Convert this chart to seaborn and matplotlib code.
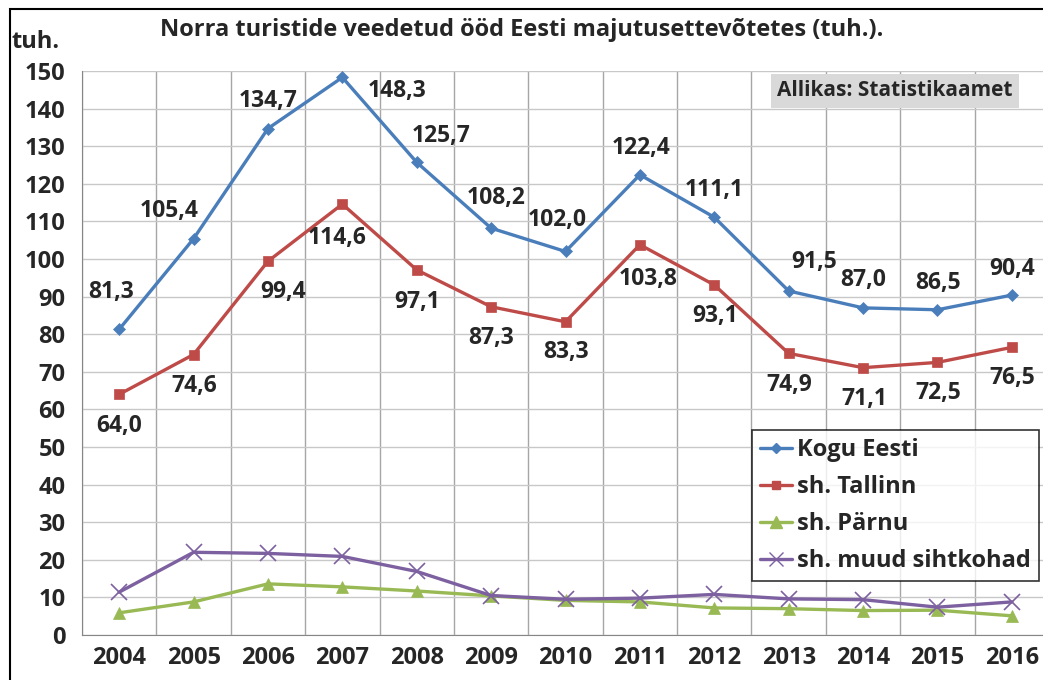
import matplotlib
matplotlib.use("Agg")
import matplotlib.pyplot as plt
from matplotlib.patches import Rectangle
from matplotlib.lines import Line2D
import pandas as pd
import seaborn as sns

# data
years = ['2004', '2005', '2006', '2007', '2008', '2009', '2010',
         '2011', '2012', '2013', '2014', '2015', '2016']
kogu = [81.3, 105.4, 134.7, 148.3, 125.7, 108.2, 102.0, 122.4, 111.1, 91.5, 87.0, 86.5, 90.4]
tallinn = [64.0, 74.6, 99.4, 114.6, 97.1, 87.3, 83.3, 103.8, 93.1, 74.9, 71.1, 72.5, 76.5]
parnu = [5.9, 8.8, 13.6, 12.8, 11.7, 10.4, 9.2, 8.8, 7.2, 7.0, 6.5, 6.6, 5.1]
muud = [11.4, 22.0, 21.7, 20.9, 16.9, 10.5, 9.5, 9.8, 10.8, 9.6, 9.4, 7.4, 8.8]
names = ['Kogu Eesti', 'sh. Tallinn', 'sh. Pärnu', 'sh. muud sihtkohad']

colors = ['#4a7ebb', '#be4b48', '#98b954', '#7d60a0']
markers = ['D', 's', '^', 'x']
msizes = [6, 7, 9, 11]

# label offsets in pixels (x, y up)
kogu_off = [(-8, 37), (-24, 28), (0, 28), (55, -14), (24, 26), (5, 30), (-8, 31),
            (1, 27), (0, 27), (25, 29), (0, 28), (1, 27), (0, 26)]
tall_off = [(0, -32), (1, -31), (15, -31), (-5, -34), (0, -32), (0, -31), (1, -30),
            (8, -34), (1, -31), (1, -32), (1, -31), (1, -31), (0, -31)]

sns.set_style("white")
plt.rcParams['font.family'] = ['Open Sans', 'DejaVu Sans']
plt.rcParams['font.weight'] = 'bold'

df = pd.DataFrame({'x': list(range(len(years))) * 4,
                   'value': kogu + tallinn + parnu + muud,
                   'series': [n for n in names for _ in years]})

fig = plt.figure(figsize=(10.43, 6.8), dpi=100)
ax = fig.add_axes([82 / 1043, 45 / 680, 967 / 1043, 564 / 680])

for i, n in enumerate(names):
    sub = df[df['series'] == n]
    sns.lineplot(data=sub, x='x', y='value', ax=ax, color=colors[i], marker=markers[i],
                 markersize=msizes[i], markeredgecolor=colors[i],
                 markeredgewidth=1.2 if markers[i] == 'x' else 0.5,
                 linewidth=2.4, legend=False)

fmt = lambda v: f"{v:.1f}".replace('.', ',')
for i, v in enumerate(kogu):
    ax.annotate(fmt(v), (i, v), xytext=kogu_off[i], textcoords='offset pixels',
                ha='center', va='center', fontsize=16.5, fontweight='bold')
for i, v in enumerate(tallinn):
    ax.annotate(fmt(v), (i, v), xytext=tall_off[i], textcoords='offset pixels',
                ha='center', va='center', fontsize=16.5, fontweight='bold')

ax.set_xlim(-0.5, len(years) - 0.5)
ax.set_ylim(0, 150)
ax.set_yticks(range(0, 151, 10))
ax.set_yticklabels([str(t) for t in range(0, 151, 10)], fontsize=17, fontweight='bold')
ax.set_xticks(range(len(years)))
ax.set_xticklabels(years, fontsize=17, fontweight='bold')
ax.set_xticks([k - 0.5 for k in range(len(years) + 1)], minor=True)
ax.tick_params(axis='x', which='major', length=0, pad=8)
ax.tick_params(axis='x', which='minor', length=8, color='#868686', direction='out', width=1)
ax.tick_params(axis='y', length=9, color='#868686', direction='out', width=1, pad=3)
ax.grid(axis='y', color='#c8c8c8', linewidth=1)
ax.grid(axis='x', which='minor', color='#a6a6a6', linewidth=1)
ax.set_axisbelow(True)
for s in ['top', 'right']:
    ax.spines[s].set_visible(False)
for s in ['left', 'bottom']:
    ax.spines[s].set_color('#868686')
ax.set_xlabel('')
ax.set_ylabel('')

handles = [Line2D([0], [0], color=colors[i], marker=markers[i], markersize=msizes[i] - 1,
                  markeredgecolor=colors[i], linewidth=2.4) for i in range(4)]
leg = ax.legend(handles, names, loc='upper left', bbox_to_anchor=(752 / 1043, 250 / 680),
                bbox_transform=fig.transFigure, frameon=True, fancybox=False,
                fontsize=17, handlelength=1.35, handletextpad=0.2, borderpad=0.35,
                labelspacing=0.55, borderaxespad=0)
leg.get_frame().set_edgecolor('black')
leg.get_frame().set_linewidth(1.2)

fig.text(522 / 1043, 1 - 30 / 680, 'Norra turistide veedetud ööd Eesti majutusettevõtetes (tuh.).',
         ha='center', va='center', fontsize=17, fontweight='bold')
fig.text(12 / 1043, 1 - 42 / 680, 'tuh.', ha='left', va='center', fontsize=17, fontweight='bold')
fig.text(777 / 1043, 1 - 91 / 680, 'Allikas: Statistikaamet', ha='left', va='center',
         fontsize=15, fontweight='bold',
         bbox=dict(boxstyle='square,pad=0.3', facecolor='#d9d9d9', edgecolor='none'))

fig.patches.append(Rectangle((10 / 1043, -0.1), 1.1, 1.1 - 9 / 680,
                             transform=fig.transFigure, fill=False, edgecolor='black',
                             linewidth=1.5))

fig.savefig('out.png', dpi=100)
